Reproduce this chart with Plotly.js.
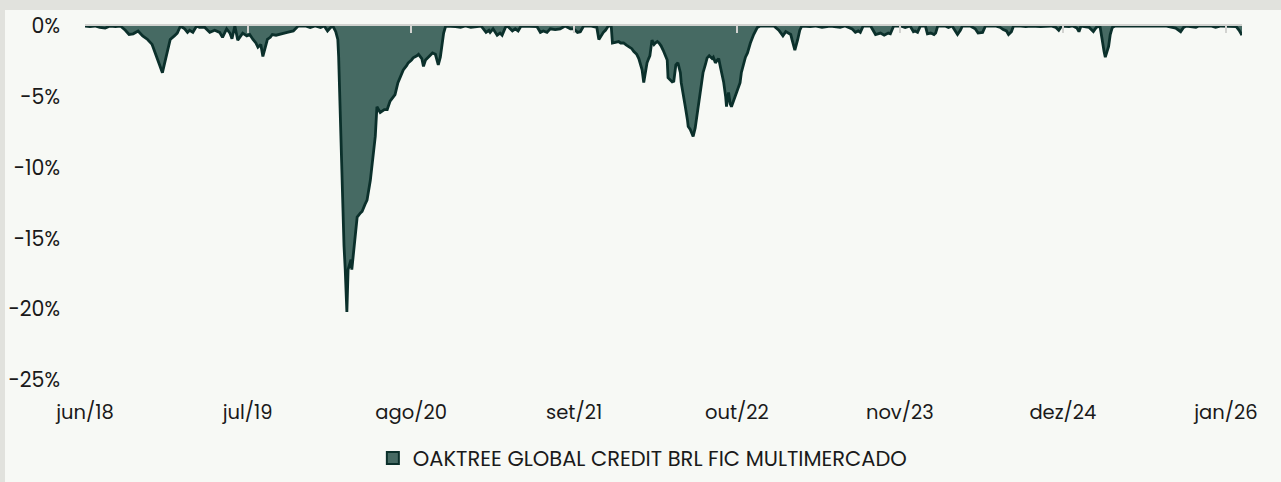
<!DOCTYPE html>
<html><head><meta charset="utf-8">
<script src="https://cdn.plot.ly/plotly-3.0.1.min.js"></script>
<style>
html,body{margin:0;padding:0;background:#e1e2dd;width:1281px;height:482px;overflow:hidden}
#chart{position:absolute;left:5px;top:10px;width:1276px;height:472px}
</style></head><body><div id="chart"></div>
<script>
const seriesName = 'OAKTREE GLOBAL CREDIT BRL FIC MULTIMERCADO';
const dates = [
'2018-06-20','2018-07-02','2018-07-14','2018-07-26','2018-08-08','2018-08-20','2018-09-02','2018-09-14','2018-09-26','2018-10-05',
'2018-10-15','2018-10-27','2018-11-07','2018-11-19','2018-11-30','2018-12-08','2018-12-13','2018-12-20','2018-12-25','2018-12-29',
'2019-01-06','2019-01-13','2019-01-23','2019-01-30','2019-02-07','2019-02-17','2019-02-24','2019-03-01','2019-03-09','2019-03-18',
'2019-03-25','2019-04-07','2019-04-19','2019-05-01','2019-05-13','2019-05-20','2019-05-30','2019-06-07','2019-06-12','2019-06-19',
'2019-06-26','2019-07-04','2019-07-08','2019-07-18','2019-07-25','2019-08-02','2019-08-09','2019-08-14','2019-08-21','2019-08-26',
'2019-09-01','2019-09-06','2019-09-13','2019-09-18','2019-09-27','2019-10-07','2019-10-17','2019-10-24','2019-11-01','2019-11-08',
'2019-11-15','2019-11-20','2019-12-07','2019-12-19','2019-12-31','2020-01-13','2020-01-22','2020-01-30','2020-02-07','2020-02-12',
'2020-02-19','2020-02-24','2020-02-26','2020-02-29','2020-03-05','2020-03-10','2020-03-13','2020-03-17','2020-03-20','2020-03-25',
'2020-03-27','2020-03-29','2020-04-04','2020-04-11','2020-04-19','2020-04-23','2020-04-30','2020-05-05','2020-05-13','2020-05-20',
'2020-05-25','2020-05-29','2020-06-04','2020-06-06','2020-06-16','2020-06-23','2020-06-30','2020-07-07','2020-07-12','2020-07-19',
'2020-07-27','2020-08-01','2020-08-09','2020-08-13','2020-08-21','2020-08-25','2020-09-03','2020-09-07','2020-09-15','2020-09-19',
'2020-09-24','2020-09-29','2020-10-06','2020-10-11','2020-10-18','2020-10-25','2020-10-30','2020-11-02','2020-11-07','2020-11-12',
'2020-11-24','2020-12-06','2020-12-18','2020-12-30','2021-01-12','2021-01-24','2021-02-06','2021-02-18','2021-02-25','2021-02-28',
'2021-03-07','2021-03-17','2021-03-24','2021-03-29','2021-04-06','2021-04-11','2021-04-23','2021-04-30','2021-05-07','2021-05-14',
'2021-06-06','2021-06-22','2021-06-30','2021-07-07','2021-07-16','2021-07-24','2021-08-05','2021-08-17','2021-08-29','2021-09-11',
'2021-09-19','2021-09-28','2021-10-05','2021-10-13','2021-10-29','2021-11-14','2021-11-19','2021-11-26','2021-11-30','2021-12-05',
'2021-12-12','2021-12-19','2021-12-22','2021-12-29','2022-01-06','2022-01-11','2022-01-18','2022-01-25','2022-01-30','2022-02-07',
'2022-02-12','2022-02-19','2022-02-24','2022-02-28','2022-03-04','2022-03-08','2022-03-11','2022-03-16','2022-03-20','2022-03-23',
'2022-03-28','2022-04-02','2022-04-05','2022-04-10','2022-04-14','2022-04-19','2022-04-24','2022-04-29','2022-05-04','2022-05-06',
'2022-05-11','2022-05-16','2022-05-20','2022-05-25','2022-05-30','2022-06-05','2022-06-07','2022-06-12','2022-06-17','2022-06-22',
'2022-06-24','2022-06-29','2022-07-03','2022-07-06','2022-07-11','2022-07-15','2022-07-20','2022-07-23','2022-07-27','2022-07-30',
'2022-08-05','2022-08-09','2022-08-14','2022-08-21','2022-08-24','2022-08-29','2022-09-03','2022-09-06','2022-09-11','2022-09-15',
'2022-09-18','2022-09-23','2022-09-25','2022-09-27','2022-09-30','2022-10-04','2022-10-07','2022-10-12','2022-10-16','2022-10-21',
'2022-10-28','2022-10-31','2022-11-06','2022-11-10','2022-11-15','2022-11-22','2022-11-30','2022-12-09','2022-12-16','2022-12-28',
'2023-01-10','2023-01-18','2023-01-30','2023-02-09','2023-02-16','2023-02-23','2023-02-28','2023-03-03','2023-03-10','2023-03-17',
'2023-03-22','2023-03-27','2023-04-16','2023-04-28','2023-05-15','2023-06-04','2023-06-28','2023-07-10','2023-07-27','2023-08-04',
'2023-08-11','2023-08-16','2023-08-23','2023-09-10','2023-09-22','2023-10-04','2023-10-13','2023-10-23','2023-10-28','2023-11-05',
'2023-11-22','2023-12-03','2023-12-15','2023-12-23','2023-12-27','2024-01-02','2024-01-09','2024-01-21','2024-01-26','2024-02-03',
'2024-02-11','2024-02-15','2024-02-20','2024-03-09','2024-03-17','2024-03-26','2024-04-03','2024-04-08','2024-04-15','2024-04-20',
'2024-05-09','2024-05-21','2024-05-28','2024-06-08','2024-06-15','2024-07-09','2024-07-21','2024-07-28','2024-08-05','2024-08-10',
'2024-08-17','2024-08-22','2024-09-09','2024-09-21','2024-10-03','2024-10-27','2024-11-21','2024-12-03','2024-12-10','2024-12-17',
'2025-01-04','2025-01-13','2025-01-23','2025-01-28','2025-02-02','2025-02-22','2025-03-04','2025-03-11','2025-03-20','2025-03-25',
'2025-03-30','2025-04-02','2025-04-05','2025-04-10','2025-04-14','2025-04-19','2025-04-26','2025-06-02','2025-06-26','2025-07-20',
'2025-08-26','2025-09-20','2025-10-02','2025-10-09','2025-10-16','2025-11-08','2025-11-15','2025-12-14','2025-12-26','2026-01-08',
'2026-02-07','2026-02-14','2026-02-21','2026-02-26','2026-02-28'
];
const drawdown = [
0,-0.05,0,-0.1,-0.15,0,-0.05,0,-0.3,-0.6,
-0.55,-0.35,-0.7,-0.95,-1.3,-1.9,-2.35,-2.9,-3.3,-2.8,
-1.9,-0.95,-0.7,-0.5,0,-0.2,-0.45,-0.3,-0.45,0,
-0.1,-0.1,-0.45,-0.3,-0.45,-0.8,-0.2,-0.5,-0.9,0,
-1.0,-0.6,-0.5,-0.7,-0.6,-0.95,-1.2,-1.5,-1.3,-2.15,
-1.5,-0.95,-0.8,-0.6,-0.65,-0.6,-0.5,-0.45,-0.4,-0.35,
-0.15,0,0,-0.1,0,-0.1,0,-0.35,-0.1,0,
-0.4,-0.95,-2.15,-5.4,-11.3,-15.5,-17.2,-20.2,-17.2,-16.6,
-16.5,-17.2,-15.3,-13.5,-13.2,-13.1,-12.6,-12.3,-10.9,-9.0,
-7.8,-5.7,-6.0,-6.1,-5.9,-5.9,-5.3,-5.0,-4.85,-4.0,
-3.5,-3.1,-2.8,-2.6,-2.4,-2.25,-2.1,-2.0,-2.3,-2.85,
-2.4,-2.25,-2.0,-1.9,-2.0,-2.75,-2.2,-1.45,-0.5,0,
0,-0.05,-0.1,0,-0.1,-0.05,0,-0.45,-0.3,-0.45,
-0.2,-0.65,-0.5,-0.65,-0.1,0,-0.35,-0.2,-0.35,0,
0,-0.05,-0.45,-0.35,-0.45,-0.2,-0.25,-0.2,0,-0.2,
-0.2,-0.45,-0.4,0,0,-0.1,-0.95,-0.6,-0.45,-0.3,
0,0,-1.2,-1.15,-1.1,-1.2,-1.2,-1.35,-1.45,-1.6,
-1.8,-2.0,-2.3,-2.7,-3.1,-4.0,-3.4,-2.6,-2.3,-2.1,
-1.0,-1.3,-1.2,-1.1,-1.2,-1.4,-1.7,-2.0,-2.4,-3.65,
-3.8,-3.95,-3.9,-2.75,-2.6,-3.3,-4.0,-5.0,-5.7,-6.6,
-7.1,-7.3,-7.6,-7.8,-7.2,-6.4,-5.3,-4.7,-3.8,-3.3,
-2.7,-2.25,-2.1,-2.3,-2.2,-2.6,-2.4,-2.3,-3.0,-3.5,
-3.95,-5.0,-5.7,-5.2,-4.7,-5.5,-5.7,-5.3,-5.0,-4.65,
-4.0,-3.3,-2.6,-2.2,-1.9,-1.2,-0.6,-0.1,0,0,
-0.05,0,-0.3,-0.7,-0.4,-0.55,-0.6,-0.95,-1.7,-0.95,
-0.3,0,-0.05,0,-0.1,0,-0.1,0,-0.2,-0.45,
-0.35,-0.45,0,0,-0.6,-0.5,-0.65,-0.5,-0.55,0,
0,-0.1,0,-0.4,-0.35,-0.45,0,0,-0.55,-0.5,
-0.6,-0.5,0,0,-0.1,0,-0.4,-0.6,-0.3,0,
0,-0.2,-0.5,-0.45,0,0,-0.1,-0.25,-0.35,-0.6,
-0.4,0,0,-0.05,0,-0.05,0,-0.1,-0.3,0,
-0.05,0,-0.15,-0.4,0,-0.1,-0.4,-0.1,0,-1.1,
-1.8,-2.2,-1.9,-1.45,-0.6,-0.1,0,0,-0.05,0,
0,-0.15,-0.4,-0.1,0,-0.1,0,0,-0.1,0,
0,-0.05,-0.3,-0.55,-0.5
];
const tickDates = ['2018-06-20','2019-07-20','2020-08-20','2021-09-20','2022-10-20','2023-11-20','2024-12-20','2026-01-20'];
const tickLabels = ['jun/18','jul/19','ago/20','set/21','out/22','nov/23','dez/24','jan/26'];
const yTickValues = [0,-5,-10,-15,-20,-25];
const yTickLabels = ['0%','-5%','-10%','-15%','-20%','-25%'];

const fontFam = 'Poppins, "Open Sans", sans-serif';
const xRange = [dates[0], dates[dates.length-1]];
const fillCol = '#466a63';
const lineCol = '#0b302b';

const areaTrace = {
  x: dates, y: drawdown, type: 'scatter', mode: 'lines', name: seriesName,
  fill: 'tozeroy', fillcolor: fillCol,
  line: {color: lineCol, width: 2.8},
  hoverinfo: 'skip', showlegend: false
};
// legend swatch (square with dark border, as in the reference)
const legendTrace = {
  x: [dates[0]], y: [null], type: 'bar', name: seriesName,
  marker: {color: fillCol, line: {color: lineCol, width: 2}},
  hoverinfo: 'skip', showlegend: true
};
// carrier for the top (zero-line) axis with its tick marks
const axisCarrier = {
  x: xRange, y: [0, 0], type: 'scatter', mode: 'lines', xaxis: 'x2', yaxis: 'y',
  line: {width: 0, color: 'rgba(0,0,0,0)'}, hoverinfo: 'skip', showlegend: false
};

const layout = {
  width: 1276, height: 472,
  paper_bgcolor: '#f7f9f5', plot_bgcolor: '#f7f9f5',
  margin: {l: 80, r: 39, t: 16, b: 102},
  font: {family: fontFam, color: '#1a1a1a', size: 20},
  showlegend: true,
  xaxis: {
    type: 'date', range: xRange, tickmode: 'array', tickvals: tickDates, ticktext: tickLabels,
    showgrid: false, zeroline: false, showline: false, ticks: '',
    ticklabelstandoff: 18, tickfont: {size: 19.5, family: fontFam, color: '#1a1a1a'}
  },
  xaxis2: {
    type: 'date', range: xRange, overlaying: 'x', side: 'top', anchor: 'y',
    tickmode: 'array', tickvals: tickDates, showticklabels: false,
    showgrid: false, zeroline: false, showline: true, linecolor: '#d2d3d0', linewidth: 2,
    ticks: 'inside', ticklen: 7, tickwidth: 2, tickcolor: '#d2d3d0', layer: 'above traces'
  },
  yaxis: {
    range: [-25, 0], tickmode: 'array', tickvals: yTickValues, ticktext: yTickLabels,
    showgrid: false, zeroline: false, showline: false, ticks: '',
    ticklabelstandoff: 24, tickfont: {size: 20.5, family: fontFam, color: '#1a1a1a'}
  },
  legend: {
    orientation: 'h', xref: 'container', yref: 'container',
    x: 0.4995, xanchor: 'center', y: 0.05, yanchor: 'middle',
    font: {size: 21, family: fontFam, color: '#1a1a1a'},
    bgcolor: 'rgba(0,0,0,0)', itemwidth: 30
  }
};

Plotly.newPlot('chart', [areaTrace, legendTrace, axisCarrier], layout, {displayModeBar: false, staticPlot: true});
</script></body></html>
